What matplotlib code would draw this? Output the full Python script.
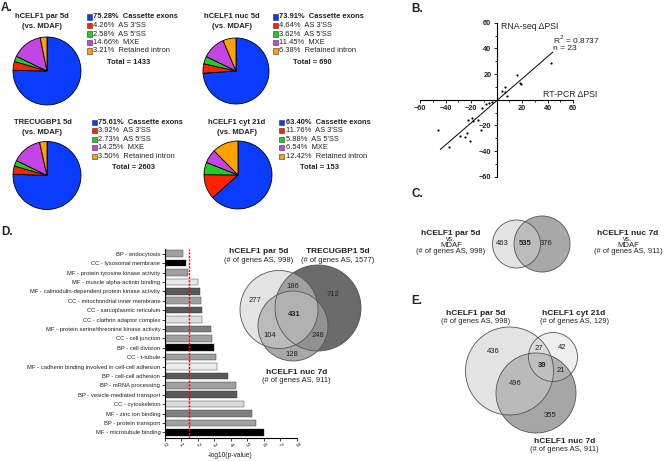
import numpy as np
import matplotlib
matplotlib.use('Agg')
import matplotlib.pyplot as plt
from matplotlib.patches import Circle, Rectangle

plt.rcParams['font.family'] = ['Liberation Sans', 'DejaVu Sans']

W, H = 666, 461

# A. splicing event types per comparison
event_types = ['Cassette exons', "AS 3'SS", "AS 5'SS", 'MXE', 'Retained intron']
pie_titles = [('hCELF1 par 5d', '(vs. MDAF)'), ('hCELF1 nuc 5d', '(vs. MDAF)'),
              ('TRECUGBP1 5d', '(vs. MDAF)'), ('hCELF1 cyt 21d', '(vs. MDAF)')]
pct_par5 = [75.28, 4.26, 2.58, 14.66, 3.21]
pct_nuc5 = [73.91, 4.64, 3.62, 11.45, 6.38]
pct_tre5 = [75.61, 3.92, 2.73, 14.25, 3.50]
pct_cyt21 = [63.40, 11.76, 5.88, 6.54, 12.42]
pie_totals = [1433, 690, 2603, 153]

# B. RT-PCR vs RNA-seq delta PSI
rt_pcr = [42.6, 16.1, 18.2, 19.5, 6.6, 4.7, 6.3, 8.4, -3.5, -5.5, -8.2, -11.3,
          -22.6, -18.4, -19.5, -14.5, -11.8, -45.5, -28.4, -24.5, -23.4, -20.5, -37.6]
rna_seq = [28.8, 19.5, 13.0, 11.9, 10.1, 6.5, 6.0, 3.1, -1.5, -2.3, -3.6, -6.2,
           -15.6, -16.6, -14.5, -15.6, -23.4, -23.9, -28.1, -29.1, -26.2, -31.9, -36.6]
fit_slope = 0.86
fit_intercept = -0.9
fit_x = [-44, 44]
r2 = 0.8737

# D. GO terms
go_terms = ['BP - endocytosis', 'CC - lysosomal membrane', 'MF - protein tyrosine kinase activity',
            'MF - muscle alpha-actinin binding', 'MF - calmodulin-dependent protein kinase activity',
            'CC - mitochondrial inner membrane', 'CC - sarcoplasmic reticulum',
            'CC - clathrin adaptor complex', 'MF - protein serine/threonine kinase activity',
            'CC - cell junction', 'BP - cell division', 'CC - t-tubule',
            'MF - cadherin binding involved in cell-cell adhesion', 'BP - cell-cell adhesion',
            'BP - mRNA processing', 'BP - vesicle-mediated transport', 'CC - cytoskeleton',
            'MF - zinc ion binding', 'BP - protein transport', 'MF - microtubule binding']
go_logp = [1.12, 1.32, 1.45, 2.06, 2.14, 2.22, 2.29, 2.29, 2.84, 2.88,
           3.02, 3.10, 3.20, 3.82, 4.33, 4.42, 4.83, 5.29, 5.55, 6.06]
p_threshold = 1.5

# Venn counts
venn_c = {'par': 463, 'both': 535, 'nuc': 376}
venn_d = {'par': 277, 'par_tre': 186, 'tre': 712, 'all': 431, 'par_nuc': 104, 'tre_nuc': 248, 'nuc': 128}
venn_e = {'par': 436, 'par_cyt': 27, 'cyt': 42, 'all': 39, 'cyt_nuc': 21, 'par_nuc': 496, 'nuc': 355}
genes_par5, genes_nuc7, genes_tre5, genes_cyt21 = 998, 911, 1577, 129

pie_colors = ['#0a3cff', '#ff2200', '#22cc22', '#c444e6', '#ffa200']
bar_colors = ['#a0a0a0', '#000000', '#a0a0a0', '#e8e8e8', '#5a5a5a', '#a0a0a0', '#5a5a5a',
              '#e0e0e0', '#808080', '#a0a0a0', '#000000', '#a0a0a0', '#ebebeb', '#5a5a5a',
              '#a0a0a0', '#5a5a5a', '#dcdcdc', '#808080', '#a0a0a0', '#000000']
TXT = '#222222'

fig = plt.figure(figsize=(W / 100, H / 100), dpi=100)


def px_axes(x0, y0, w, h, **kw):
    return fig.add_axes([x0 / W, 1 - (y0 + h) / H, w / W, h / H], **kw)


# ---- A. pies
pie_vals = [pct_par5, pct_nuc5, pct_tre5, pct_cyt21]
# cx, cy, r, title x, title y, legend x, legend y
pie_layout = [(47, 71, 35, 42, 17, 86.5, 17),
              (236, 71, 34, 231.5, 17, 272.5, 17),
              (47, 175.5, 35, 42.5, 122, 91.5, 122.3),
              (238, 175, 35, 237, 122, 279, 122.3)]

for vals, (cx, cy, r, tx, ty, lx, ly) in zip(pie_vals, pie_layout):
    ax = px_axes(cx - r, cy - r, 2 * r, 2 * r)
    ax.pie(vals, colors=pie_colors, startangle=90, counterclock=False,
           wedgeprops=dict(edgecolor='k', linewidth=0.6))
    ax.set_xlim(-1.03, 1.03)
    ax.set_ylim(-1.03, 1.03)
    ax.set_aspect('equal')

# ---- B. scatter
axB = px_axes(420, 22.7, 153, 154)
axB.scatter(rt_pcr, rna_seq, s=2.5, c='k', linewidths=0)
fx = np.array(fit_x)
axB.plot(fx, fit_slope * fx + fit_intercept, color='k', lw=0.7)
axB.set_xlim(-60, 60)
axB.set_ylim(-60, 60)
for s in ['top', 'right']:
    axB.spines[s].set_visible(False)
axB.spines['left'].set_position(('data', 0))
axB.spines['bottom'].set_position(('data', 0))
for s in ['left', 'bottom']:
    axB.spines[s].set_linewidth(0.8)
ticks = [-60, -40, -20, 20, 40, 60]
axB.set_xticks(ticks)
axB.set_yticks(ticks)
axB.set_xticks(np.arange(-50, 60, 20), minor=True)
axB.set_yticks(np.arange(-50, 60, 20), minor=True)
axB.tick_params(which='major', length=2.2, width=0.7, labelsize=5.3, pad=1.5, colors=TXT)
axB.tick_params(which='minor', length=1.4, width=0.6)
for lab in axB.get_xticklabels() + axB.get_yticklabels():
    lab.set_fontweight('bold')
axB.patch.set_alpha(0)
axB.text(3.3, 56.8, 'RNA-seq ΔPSI', fontsize=6.3, va='center', ha='left', color=TXT)
axB.text(36.2, 0.8, 'RT-PCR ΔPSI', fontsize=6.3, va='bottom', ha='left', color=TXT)
axB.text(44.3, 46.4, f'R$^2$ = {r2}', fontsize=6.0, va='center', ha='left', color=TXT)
axB.text(44.3, 39.6, f'n = {len(rt_pcr)}', fontsize=6.0, va='center', ha='left', color=TXT)

# ---- D. bars
axD = px_axes(164.5, 249, 132, 189)
ypos = np.arange(len(go_terms))
axD.barh(ypos, go_logp, height=0.7, color=bar_colors, edgecolor='#333333', linewidth=0.3)
axD.axvline(p_threshold, color='#ff0000', ls=(0, (1.5, 1)), lw=1.0, zorder=3)
axD.set_ylim(len(go_terms) - 0.4, -0.5)
axD.set_xlim(0, 8)
axD.set_yticks(ypos)
axD.set_yticklabels(go_terms)
axD.set_xticks(range(9))
axD.tick_params(axis='y', length=2, width=0.6, labelsize=4.2, pad=1, colors=TXT)
axD.tick_params(axis='x', length=2, width=0.6, labelsize=4.2, pad=1, colors=TXT, labelrotation=-60)
for s in ['top', 'right']:
    axD.spines[s].set_visible(False)
for s in ['left', 'bottom']:
    axD.spines[s].set_linewidth(0.8)
axD.set_xlabel('-log10(p-value)', fontsize=4.8, color=TXT, labelpad=3)

# ---- overlay in pixel coordinates
ov = fig.add_axes([0, 0, 1, 1], zorder=5)
ov.set_xlim(0, W)
ov.set_ylim(H, 0)
ov.axis('off')

for lab, (x, y) in zip(['A.', 'B.', 'C.', 'D.', 'E.'],
                       [(1, 2), (411, 3), (411, 188), (1, 226), (411, 295)]):
    ov.text(x, y, lab, fontsize=8.5, fontweight='bold', va='top', ha='left', color=TXT)

for vals, (t1, t2), tot, (cx, cy, r, tx, ty, lx, ly) in zip(pie_vals, pie_titles, pie_totals, pie_layout):
    ov.text(tx, ty, t1, fontsize=5.5, fontweight='bold', ha='center', va='center', color=TXT)
    ov.text(tx, ty + 10, t2, fontsize=5.5, fontweight='bold', ha='center', va='center', color=TXT)
    for i, (v, name) in enumerate(zip(vals, event_types)):
        y = ly + 8.5 * i
        ov.add_patch(Rectangle((lx, y - 2.6), 5, 5.2, facecolor=pie_colors[i], edgecolor='#333333', lw=0.4))
        ov.text(lx + 6.5, y, f'{v:.2f}%  {name}', fontsize=5.4, va='center', ha='left', color=TXT,
                fontweight='bold' if i == 0 else 'normal')
    ov.text(lx + 20.5, ly + 45, f'Total = {tot}', fontsize=5.4, fontweight='bold', va='center', ha='left', color=TXT)


def venn(circles):
    # circles: list of (cx, cy, r, gray, alpha), bottom to top
    for cx, cy, r, g, a in circles:
        ov.add_patch(Circle((cx, cy), r, facecolor='white', edgecolor='none', zorder=1))
    for cx, cy, r, g, a in circles:
        ov.add_patch(Circle((cx, cy), r, facecolor=str(g), alpha=a, edgecolor='none', zorder=2))
    for cx, cy, r, g, a in circles:
        ov.add_patch(Circle((cx, cy), r, fill=False, edgecolor='#555555', lw=0.6, zorder=3))


def num(x, y, n, bold=False):
    ov.text(x, y, str(n), fontsize=5.5, ha='center', va='center', color=TXT,
            fontweight='bold' if bold else 'normal', zorder=4)


def label(x, y, title, count):
    ov.text(x, y, title, fontsize=6.0, fontweight='bold', ha='center', va='center', color=TXT, zorder=4)
    ov.text(x, y + 8.5, f'(# of genes AS, {count})', fontsize=5.4, ha='center', va='center', color=TXT, zorder=4)


# C.
venn([(542, 244, 28, 0.66, 1.0), (516.5, 244, 24, 0.8, 0.55)])
num(502, 243, venn_c['par'])
num(525.5, 243, venn_c['both'], bold=True)
num(546, 243, venn_c['nuc'])
for x, cnt, nm in [(451, genes_par5, 'hCELF1 par 5d'), (628, genes_nuc7, 'hCELF1 nuc 7d')]:
    ov.text(x, 233.3, nm, fontsize=6.0, fontweight='bold', ha='center', va='center', color=TXT)
    ov.text(x, 239.6, 'vs.', fontsize=5.0, ha='center', va='center', color=TXT)
    ov.text(x, 245.3, 'MDAF', fontsize=5.6, ha='center', va='center', color=TXT)
    ov.text(x, 251.7, f'(# of genes AS, {cnt})', fontsize=5.4, ha='center', va='center', color=TXT)

# D.
venn([(318, 308, 43, 0.42, 1.0), (293, 326, 35, 0.6, 0.85), (279, 309.5, 39, 0.8, 0.55)])
num(255, 300, venn_d['par'])
num(293.3, 286.3, venn_d['par_tre'])
num(333.3, 294.7, venn_d['tre'])
num(294, 314, venn_d['all'], bold=True)
num(269.3, 335.3, venn_d['par_nuc'])
num(318.3, 335.3, venn_d['tre_nuc'])
num(291.7, 354.7, venn_d['nuc'])
label(259, 251.5, 'hCELF1 par 5d', genes_par5)
label(338, 251.5, 'TRECUGBP1 5d', genes_tre5)
label(296.7, 372, 'hCELF1 nuc 7d', genes_nuc7)

# E.
venn([(536, 393, 40, 0.65, 1.0), (553, 357, 24.5, 0.8, 0.3), (509.5, 371, 44, 0.8, 0.55)])
num(493, 351, venn_e['par'])
num(539, 348, venn_e['par_cyt'])
num(562, 347, venn_e['cyt'])
num(542, 365, venn_e['all'], bold=True)
num(561, 370, venn_e['cyt_nuc'])
num(515, 383, venn_e['par_nuc'])
num(550, 415, venn_e['nuc'])
label(476, 313, 'hCELF1 par 5d', genes_par5)
label(574, 313, 'hCELF1 cyt 21d', genes_cyt21)
label(564.5, 441, 'hCELF1 nuc 7d', genes_nuc7)

fig.savefig('out.png', dpi=100)
